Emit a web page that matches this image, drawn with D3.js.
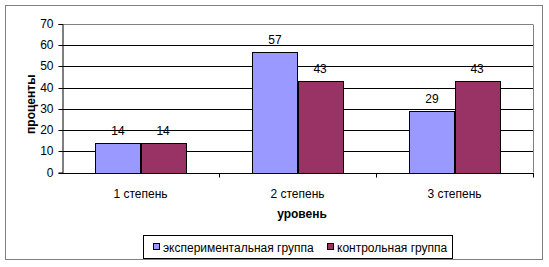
<!DOCTYPE html>
<html>
<head>
<meta charset="utf-8">
<script src="https://cdn.jsdelivr.net/npm/d3@7"></script>
<style>
  body { margin: 0; background: #fff; }
  text { font-family: "Liberation Sans", Arial, sans-serif; }
</style>
</head>
<body>
<div id="chart"></div>
<script>
// данные
const categories = ['1 степень', '2 степень', '3 степень'];
const seriesNames = ['экспериментальная группа', 'контрольная группа'];
const expValues = [14, 57, 29];
const ctrlValues = [14, 43, 43];
const yTicks = [0, 10, 20, 30, 40, 50, 60, 70];
const colors = ['#9999FF', '#993366'];

const W = 549, H = 267;
const plot = { left: 62, right: 533, top: 24, bottom: 172.5 };

const svg = d3.select('#chart').append('svg')
    .attr('width', W)
    .attr('height', H);

// рамка диаграммы
svg.append('rect')
    .attr('x', 5.5).attr('y', 5.5)
    .attr('width', 537).attr('height', 254)
    .attr('fill', '#fff')
    .attr('stroke', '#808080')
    .attr('stroke-width', 1);

const x = d3.scaleBand()
    .domain(categories)
    .range([plot.left, plot.right]);

const xInner = d3.scaleBand()
    .domain(seriesNames)
    .range([0, x.bandwidth()])
    .paddingOuter(0.74);

const y = d3.scaleLinear()
    .domain([0, 70])
    .range([plot.bottom, plot.top]);

// сетка
svg.append('g')
    .selectAll('line')
    .data(yTicks.filter(d => d > 0))
    .enter()
    .append('line')
    .attr('x1', plot.left)
    .attr('x2', plot.right)
    .attr('y1', d => Math.round(y(d)) + 0.5)
    .attr('y2', d => Math.round(y(d)) + 0.5)
    .attr('stroke', d => d === 70 ? '#808080' : '#000')
    .attr('stroke-width', 1);

// правая граница области построения
svg.append('line')
    .attr('x1', plot.right + 0.5).attr('x2', plot.right + 0.5)
    .attr('y1', Math.round(y(70)) + 0.5).attr('y2', plot.bottom)
    .attr('stroke', '#808080');

// ось Y
const yAxis = svg.append('g')
    .attr('transform', `translate(${plot.left + 0.5},0)`)
    .call(d3.axisLeft(y).tickValues(yTicks).tickSize(4).tickPadding(5));
yAxis.select('.domain').attr('stroke', '#000');
yAxis.selectAll('.tick line').attr('stroke', '#000');
yAxis.selectAll('.tick text')
    .attr('font-size', 12)
    .attr('fill', '#000')
    .style('font-family', '"Liberation Sans", Arial, sans-serif');
yAxis.selectAll('.tick').attr('transform', d => `translate(0,${Math.round(y(d)) + 0.5})`);

// ось X
const xAxisY = Math.round(plot.bottom) + 0.5;
svg.append('line')
    .attr('x1', plot.left).attr('x2', plot.right + 1)
    .attr('y1', xAxisY).attr('y2', xAxisY)
    .attr('stroke', '#000');

const boundaries = categories.map(c => x(c) + x.bandwidth());
svg.append('g')
    .selectAll('line')
    .data(boundaries)
    .enter()
    .append('line')
    .attr('x1', d => Math.round(d) + 0.5)
    .attr('x2', d => Math.round(d) + 0.5)
    .attr('y1', xAxisY)
    .attr('y2', xAxisY + 4)
    .attr('stroke', '#000');

svg.append('g')
    .selectAll('text')
    .data(categories)
    .enter()
    .append('text')
    .attr('x', d => x(d) + x.bandwidth() / 2)
    .attr('y', 198)
    .attr('text-anchor', 'middle')
    .attr('font-size', 12)
    .text(d => d);

// столбцы
const rows = categories.map((c, i) => ({ cat: c, values: [expValues[i], ctrlValues[i]] }));

const groups = svg.append('g')
    .selectAll('g')
    .data(rows)
    .enter()
    .append('g')
    .attr('transform', d => `translate(${x(d.cat)},0)`);

groups.selectAll('rect')
    .data(d => d.values.map((v, j) => ({ name: seriesNames[j], value: v, j })))
    .enter()
    .append('rect')
    .attr('x', d => Math.round(xInner(d.name)) + 0.5)
    .attr('y', d => Math.round(y(d.value)) + 0.5)
    .attr('width', Math.round(xInner.bandwidth()))
    .attr('height', d => xAxisY - Math.round(y(d.value)) - 0.5)
    .attr('fill', d => colors[d.j])
    .attr('stroke', '#000')
    .attr('stroke-width', 1);

groups.selectAll('text')
    .data(d => d.values.map((v, j) => ({ name: seriesNames[j], value: v })))
    .enter()
    .append('text')
    .attr('x', d => xInner(d.name) + xInner.bandwidth() / 2)
    .attr('y', d => y(d.value) - 8)
    .attr('text-anchor', 'middle')
    .attr('font-size', 12)
    .text(d => d.value);

// подписи осей
svg.append('text')
    .attr('transform', `translate(35,${(plot.top + plot.bottom) / 2 + 6}) rotate(-90)`)
    .attr('text-anchor', 'middle')
    .attr('font-size', 12)
    .attr('font-weight', 'bold')
    .text('проценты');

svg.append('text')
    .attr('x', 302)
    .attr('y', 218)
    .attr('text-anchor', 'middle')
    .attr('font-size', 12)
    .attr('font-weight', 'bold')
    .text('уровень');

// легенда
const legend = svg.append('g');
legend.append('rect')
    .attr('x', 143.5).attr('y', 235.5)
    .attr('width', 309).attr('height', 23)
    .attr('fill', '#fff')
    .attr('stroke', '#000');

const legendX = [153, 327];
const items = legend.selectAll('g.item')
    .data(seriesNames)
    .enter()
    .append('g')
    .attr('class', 'item')
    .attr('transform', (d, i) => `translate(${legendX[i]},0)`);

items.append('rect')
    .attr('x', 0.5).attr('y', 243.5)
    .attr('width', 6).attr('height', 6)
    .attr('fill', (d, i) => colors[i])
    .attr('stroke', '#000');

items.append('text')
    .attr('x', 10)
    .attr('y', 252)
    .attr('font-size', 12)
    .text(d => d);
</script>
</body>
</html>
